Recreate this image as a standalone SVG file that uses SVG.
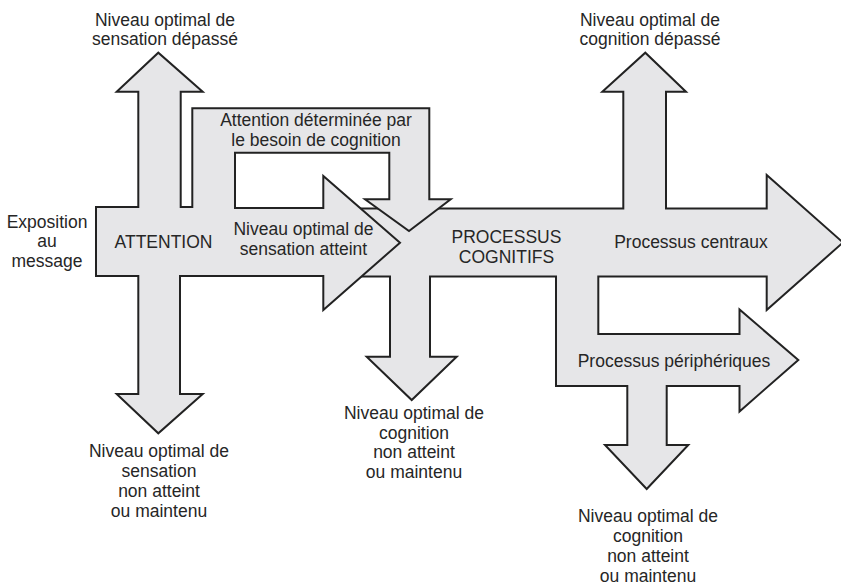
<svg xmlns="http://www.w3.org/2000/svg" width="841" height="585" viewBox="0 0 841 585">
<style>
.shape{fill:#e6e6e8;stroke:#222;stroke-width:2;stroke-linejoin:miter}
text{font-family:"Liberation Sans",Arial,Helvetica,sans-serif;font-size:17.5px;fill:#262626;text-anchor:middle}
</style>
<rect width="841" height="585" fill="#fff"/>
<g id="connectors">
<path id="processus-shape" class="shape" d="M350,208.5 H623.3 V91.7 H602.3 L645.3,52.7 L686,91.7 H666 V208.5 H766.7 V175 L843,242.5 L766.7,310 V276.5 H598.3 V334 H739.5 V309.5 L798.3,360 L739.5,411.5 V386 H666.7 V445 H688.3 L646.7,489 L605,445 H627.3 V386 H556 V276.5 H430 V356.7 H456.7 L411.7,400 L366.7,356.7 H390 V276.5 H350 Z"/>
<path id="attention-shape" class="shape" d="M96,207 H138.3 V91.7 H116.7 L158.3,52.7 L202.7,91.7 H180.7 V207 H192.3 V108.3 H429.3 V199.3 H450.7 L409,231 L365,199.3 H389.3 V152.7 H235 V208 H323.3 V176 L400,242.7 L323.3,310 V276 H180 V394 H202.7 L158.3,433.3 L116.7,394 H138.3 V276 H96 Z"/>
</g>
<g id="exposition"><text x="47" y="228.3">Exposition</text><text x="47" y="247">au</text><text x="47" y="266.5">message</text></g>
<g id="attention"><text x="163.5" y="248">ATTENTION</text></g>
<g id="sensation-depasse"><text x="165" y="25.5">Niveau optimal de</text><text x="165" y="44.5">sensation dépassé</text></g>
<g id="besoin-cognition"><text x="316" y="126">Attention déterminée par</text><text x="316" y="146">le besoin de cognition</text></g>
<g id="sensation-atteint"><text x="303.5" y="235">Niveau optimal de</text><text x="303.5" y="255">sensation atteint</text></g>
<g id="sensation-non-atteint"><text x="159" y="457.3">Niveau optimal de</text><text x="159" y="477.3">sensation</text><text x="159" y="497.3">non atteint</text><text x="159" y="517">ou maintenu</text></g>
<g id="processus-cognitifs"><text x="506.5" y="242.7">PROCESSUS</text><text x="506.5" y="262.5">COGNITIFS</text></g>
<g id="cognition-non-atteint-1"><text x="414" y="419.3">Niveau optimal de</text><text x="414" y="438.8">cognition</text><text x="414" y="458.3">non atteint</text><text x="414" y="478">ou maintenu</text></g>
<g id="cognition-depasse"><text x="650" y="25.5">Niveau optimal de</text><text x="650" y="44.5">cognition dépassé</text></g>
<g id="processus-centraux"><text x="691" y="248.3">Processus centraux</text></g>
<g id="processus-peripheriques"><text x="674" y="367.3">Processus périphériques</text></g>
<g id="cognition-non-atteint-2"><text x="648" y="522">Niveau optimal de</text><text x="648" y="542">cognition</text><text x="648" y="562">non atteint</text><text x="648" y="582">ou maintenu</text></g>
</svg>
